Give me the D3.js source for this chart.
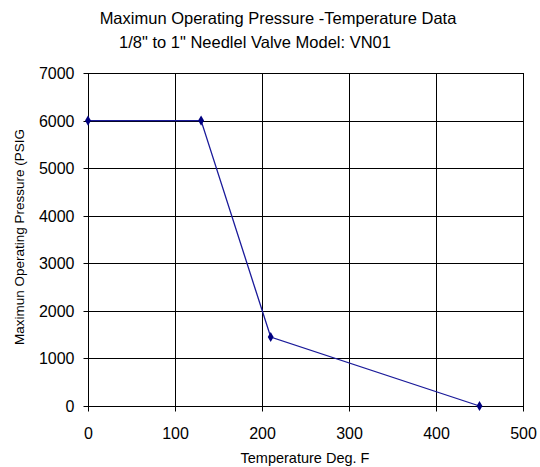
<!DOCTYPE html>
<html>
<head>
<meta charset="utf-8">
<script src="https://cdn.jsdelivr.net/npm/d3@7"></script>
<style>
body { margin: 0; background: #fff; }
text { font-family: "Liberation Sans", Arial, sans-serif; fill: #000; }
</style>
</head>
<body>
<div id="chart"></div>
<script>
var temps = [0, 130, 210, 450];
var pressures = [6000, 6000, 1450, 0];
var xTicks = [0, 100, 200, 300, 400, 500];
var yTicks = [0, 1000, 2000, 3000, 4000, 5000, 6000, 7000];
var titleLines = ["Maximun Operating Pressure -Temperature Data", "1/8\" to 1\" Needlel Valve Model: VN01"];

var svg = d3.select("#chart")
	.append("svg")
	.attr("width", 540)
	.attr("height", 467);

var pLeft = 88, pRight = 523, pTop = 73, pBottom = 406;

var x = d3.scaleLinear().domain([0, 500]).range([pLeft, pRight]);
var y = d3.scaleLinear().domain([0, 7000]).range([pBottom, pTop]);

// grid
svg.selectAll("line.hg")
	.data(yTicks)
	.enter()
	.append("line")
	.attr("x1", pLeft).attr("x2", pRight + 1)
	.attr("y1", function(d) { return Math.round(y(d)) + 0.5; })
	.attr("y2", function(d) { return Math.round(y(d)) + 0.5; })
	.attr("stroke", "#000");
svg.selectAll("line.vg")
	.data(xTicks)
	.enter()
	.append("line")
	.attr("y1", pTop).attr("y2", pBottom + 1)
	.attr("x1", function(d) { return Math.round(x(d)) + 0.5; })
	.attr("x2", function(d) { return Math.round(x(d)) + 0.5; })
	.attr("stroke", "#000");

// axes
svg.append("g")
	.attr("transform", "translate(" + (pLeft + 0.5) + ",0)")
	.call(d3.axisLeft(y).tickValues(yTicks).tickSize(5).tickPadding(9).tickFormat(d3.format("d")))
	.call(function(g) {
		g.select(".domain").remove();
		g.attr("font-family", null);
		g.selectAll(".tick").attr("transform", function(d) { return "translate(0," + (Math.round(y(d)) + 0.5) + ")"; });
		g.selectAll("text").style("font-size", "16px");
	});
svg.append("g")
	.attr("transform", "translate(0," + (pBottom + 0.5) + ")")
	.call(d3.axisBottom(x).tickValues(xTicks).tickSize(5).tickPadding(16).tickFormat(d3.format("d")))
	.call(function(g) {
		g.select(".domain").remove();
		g.attr("font-family", null);
		g.selectAll(".tick").attr("transform", function(d) { return "translate(" + (Math.round(x(d)) + 0.5) + ",0)"; });
		g.selectAll("text").style("font-size", "16px");
	});

// data line
var line = d3.line()
	.x(function(d, i) { return x(temps[i]); })
	.y(function(d) { return y(d); });
svg.append("path")
	.datum(pressures)
	.attr("d", line)
	.attr("fill", "none")
	.attr("stroke", "#1a1a9a")
	.attr("stroke-width", 1.3);

svg.selectAll("path.pt")
	.data(pressures)
	.enter()
	.append("path")
	.attr("d", d3.symbol().type(d3.symbolDiamond).size(30))
	.attr("transform", function(d, i) { return "translate(" + x(temps[i]) + "," + y(d) + ")"; })
	.attr("fill", "#000080");

// titles
svg.append("text")
	.attr("x", 278).attr("y", 24)
	.attr("text-anchor", "middle")
	.style("font-size", "16.5px")
	.text(titleLines[0]);
svg.append("text")
	.attr("x", 255).attr("y", 48)
	.attr("text-anchor", "middle")
	.style("font-size", "16.5px")
	.text(titleLines[1]);

svg.append("text")
	.attr("transform", "translate(24,237) rotate(-90)")
	.attr("text-anchor", "middle")
	.style("font-size", "13.5px")
	.text("Maximun Operating Pressure (PSIG");

svg.append("text")
	.attr("x", 305).attr("y", 463)
	.attr("text-anchor", "middle")
	.style("font-size", "14.5px")
	.text("Temperature Deg. F");
</script>
</body>
</html>
